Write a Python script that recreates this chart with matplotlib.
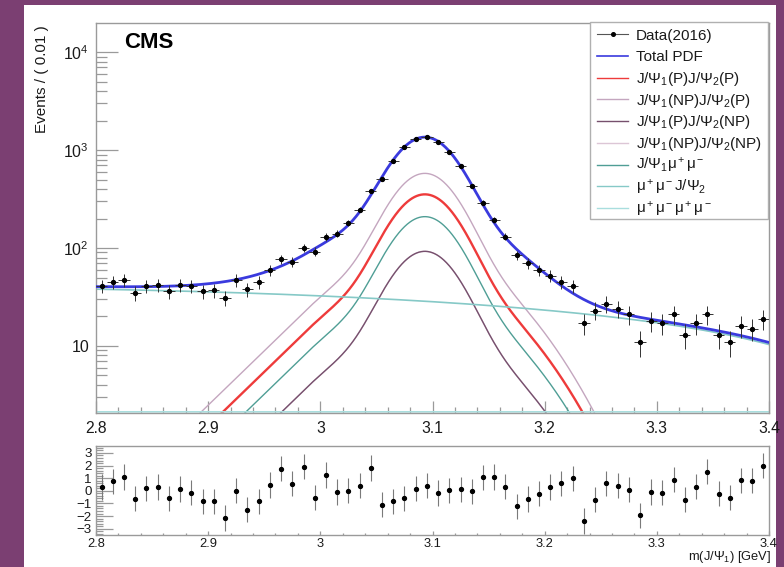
import numpy as np
import matplotlib
matplotlib.use("Agg")
import matplotlib.pyplot as plt
from matplotlib.patches import Rectangle
from matplotlib.lines import Line2D
from matplotlib.ticker import FixedLocator, FixedFormatter, MultipleLocator, LogLocator, NullFormatter

plt.rcParams["font.family"] = ["Liberation Sans", "DejaVu Sans"]
plt.rcParams["mathtext.fontset"] = "custom"
plt.rcParams["mathtext.rm"] = "Liberation Sans"
plt.rcParams["mathtext.it"] = "Liberation Sans:italic"
plt.rcParams["mathtext.bf"] = "Liberation Sans:bold"

# ---------------- binned data: m(J/psi_1), 10 MeV bins ----------------
mass_lo, mass_hi, bin_width = 2.8, 3.4, 0.01
counts = [41, 45, 47, 35, 41, 42, 36, 42, 41, 36,
          37, 31, 47, 38, 45, 59, 77, 72, 101, 92,
          130, 140, 180, 247, 382, 507, 774, 1062, 1290, 1368,
          1208, 966, 680, 434, 290, 194, 131, 85, 70, 60,
          52, 45, 41, 17, 23, 27, 24, 21, 11, 18,
          17, 21, 13, 17, 21, 13, 11, 16, 15, 19]
pulls = [0.3, 0.75, 1.1, -0.63, 0.2, 0.3, -0.6, 0.15, -0.15, -0.84,
         -0.84, -2.15, 0.0, -1.5, -0.84, 0.47, 1.75, 0.57, 1.9, -0.53,
         1.26, -0.1, 0.0, 0.4, 1.8, -1.1, -0.84, -0.6, 0.18, 0.4,
         -0.18, 0.05, 0.13, -0.05, 1.08, 1.1, 0.34, -1.24, -0.65, -0.24,
         0.3, 0.6, 1.0, -2.4, -0.7, 0.6, 0.42, 0.08, -1.95, -0.1,
         -0.16, 0.87, -0.7, 0.34, 1.52, -0.24, -0.53, 0.84, 0.79, 2.0]

# ---------------- fit model ----------------
peak_mass = 3.0932
core_sigma = 0.0245
tail_sigma_low = 0.065
tail_sigma_high = 0.0553
tail_exp_k = 1.66          # wide component turns exponential below -k*sigma
tail_fraction = 0.151

signal_labels = ["J/Ψ$_1$(P)J/Ψ$_2$(P)", "J/Ψ$_1$(NP)J/Ψ$_2$(P)",
                 "J/Ψ$_1$(P)J/Ψ$_2$(NP)", "J/Ψ$_1$(NP)J/Ψ$_2$(NP)",
                 "J/Ψ$_1$μ$^+$μ$^-$"]
signal_peaks = [353, 578, 92.5, 92.5, 209]       # events / bin at the peak
signal_colors = ["#ee3b3b", "#c4a6bf", "#76506d", "#dcc6d6", "#4f9e95"]
signal_widths = [1.7, 1.0, 1.0, 1.0, 1.0]
signal_z = [2.4, 2.2, 2.3, 2.1, 2.2]

nonres_labels = ["μ$^+$μ$^-$J/Ψ$_2$", "μ$^+$μ$^-$μ$^+$μ$^-$"]
nonres_yields = [38.0, 1.9]                      # events / bin at 2.8 GeV
nonres_coeffs = [1.0, -0.4868, -1.2105]
nonres_colors = ["#86c9c7", "#a9dede"]

total_color = "#3a3ade"
y_lo, y_hi = 2.07, 1.98e4


def peak_shape(m):
    d = m - peak_mass
    core = np.exp(-0.5 * (d / core_sigma) ** 2)
    s = np.where(d < 0, tail_sigma_low, tail_sigma_high)
    u = d / s
    k = tail_exp_k
    tail = np.where(u < -k, np.exp(0.5 * k * k + k * u), np.exp(-0.5 * u ** 2))
    return (1 - tail_fraction) * core + tail_fraction * tail


def nonres_shape(m):
    t = m - mass_lo
    return nonres_coeffs[0] + nonres_coeffs[1] * t + nonres_coeffs[2] * t ** 2


centers = np.round(mass_lo + bin_width * (np.arange(len(counts)) + 0.5), 4)
counts = np.array(counts, dtype=float)
pulls = np.array(pulls)

grid = np.linspace(mass_lo, mass_hi, 1201)
sig_curves = [h * peak_shape(grid) for h in signal_peaks]
bkg_curves = [y * nonres_shape(grid) for y in nonres_yields]
total = np.sum(sig_curves, axis=0) + np.sum(bkg_curves, axis=0)

# flat pieces that fall under the frame are drawn along its lower edge
floor = y_lo * 10 ** 0.012


# ---------------- figure ----------------
W, H = 784, 567
fig = plt.figure(figsize=(W / 100, H / 100), dpi=100)
fig.patch.set_facecolor("#7b3f72")
fig.add_artist(Rectangle((24 / W, 0), (776 - 24) / W, (H - 5) / H,
                         transform=fig.transFigure, facecolor="white",
                         edgecolor="none", zorder=-1))

frame_col = "#9a9a9a"
ax = fig.add_axes([96 / W, 1 - 413 / H, 673 / W, 390 / H])
ax2 = fig.add_axes([96 / W, 1 - 535 / H, 673 / W, 89 / H])

for a in (ax, ax2):
    for sp in a.spines.values():
        sp.set_color(frame_col)
        sp.set_linewidth(1.0)

# components
for c, col, lw, z in zip(sig_curves, signal_colors, signal_widths, signal_z):
    ax.plot(grid, c, color=col, lw=lw, zorder=z)
for c, col in zip(bkg_curves, nonres_colors):
    ax.plot(grid, np.maximum(c, floor), color=col, lw=1.2, zorder=2.5)
ax.plot(grid, total, color=total_color, lw=2.0, zorder=3)

ax.errorbar(centers, counts, yerr=np.sqrt(counts), xerr=bin_width / 2,
            fmt="o", ms=2.8, color="black", ecolor="#333333",
            elinewidth=0.7, capsize=0, zorder=4)

ax.set_yscale("log")
ax.set_xlim(mass_lo, mass_hi)
ax.set_ylim(y_lo, y_hi)
ax.yaxis.set_major_locator(FixedLocator([10, 100, 1000, 10000]))
ax.yaxis.set_major_formatter(FixedFormatter(["10", "10$^2$", "10$^3$", "10$^4$"]))
ax.yaxis.set_minor_locator(LogLocator(base=10, subs=np.arange(2, 10)))
ax.yaxis.set_minor_formatter(NullFormatter())

xt = [2.8, 2.9, 3.0, 3.1, 3.2, 3.3, 3.4]
xt_lab = ["2.8", "2.9", "3", "3.1", "3.2", "3.3", "3.4"]
for a in (ax, ax2):
    a.xaxis.set_major_locator(FixedLocator(xt))
    a.xaxis.set_major_formatter(FixedFormatter(xt_lab))
    a.xaxis.set_minor_locator(MultipleLocator(0.02))
    a.tick_params(which="both", direction="in", color=frame_col, width=0.9,
                  top=False, right=False, labelcolor="#1a1a1a")

ax.tick_params(axis="y", which="major", length=16, labelsize=11.5, pad=5)
ax.tick_params(axis="y", which="minor", length=8)
ax.tick_params(axis="x", which="major", length=8.5, labelsize=11.3, pad=6)
ax.tick_params(axis="x", which="minor", length=4.5)

# pull panel
ax2.errorbar(centers, pulls, yerr=np.ones_like(pulls), fmt="o", ms=2.8,
             color="black", ecolor="#7a7a7a", elinewidth=0.8, capsize=0, zorder=3)
ax2.set_xlim(mass_lo, mass_hi)
ax2.set_ylim(-3.5, 3.55)
ax2.yaxis.set_major_locator(FixedLocator([-3, -2, -1, 0, 1, 2, 3]))
ax2.yaxis.set_major_formatter(FixedFormatter(["−3", "−2", "−1", "0", "1", "2", "3"]))
ax2.yaxis.set_minor_locator(MultipleLocator(0.2))
ax2.tick_params(axis="y", which="major", length=12, labelsize=9.6, pad=3)
ax2.tick_params(axis="y", which="minor", length=5)
ax2.tick_params(axis="x", which="major", length=3, labelsize=9.3, pad=2)
ax2.tick_params(axis="x", which="minor", length=1.5)
for lab in ax2.get_yticklabels():
    lab.set_linespacing(0.8)

# texts
fig.text(124 / W, 1 - 48 / H, "CMS", fontsize=16, fontweight="bold",
         va="baseline", ha="left", color="black")
fig.text(42 / W, 1 - 25 / H, "Events / ( 0.01 )", rotation=90,
         ha="center", va="top", fontsize=11, color="#1a1a1a")
fig.text(771 / W, 1 - 557 / H, "m(J/Ψ$_1$) [GeV]", ha="right", va="center",
         fontsize=9.3, color="#1a1a1a")


# legend box
def fx(px):
    return px / W


def fy(py):
    return 1 - py / H


fig.add_artist(Rectangle((fx(590), fy(219)), (768 - 590) / W, (219 - 22) / H,
                         transform=fig.transFigure, facecolor="white",
                         edgecolor="#b0b0b0", lw=1.0, zorder=5))
entries = ([("Data(2016)", "black", 0.8, True), ("Total PDF", total_color, 1.2, False)]
           + [(l, c, 1.0, False) for l, c in zip(signal_labels, signal_colors)]
           + [(l, c, 1.0, False) for l, c in zip(nonres_labels, nonres_colors)])
for i, (lab, col, lw, is_data) in enumerate(entries):
    yc = 34.3 + 21.7 * i
    line_col = "#555555" if is_data else col
    fig.add_artist(Line2D([fx(597), fx(628)], [fy(yc), fy(yc)],
                          transform=fig.transFigure, color=line_col, lw=lw, zorder=6))
    if is_data:
        fig.add_artist(Line2D([fx(612.5)], [fy(yc)], transform=fig.transFigure,
                              marker="o", ms=2.6, color="black", zorder=7))
    fig.text(fx(636), fy(yc + 5.3), lab, fontsize=11, va="baseline", ha="left",
             color="#1a1a1a", zorder=7)

fig.savefig("out.png", dpi=100, facecolor=fig.get_facecolor())
